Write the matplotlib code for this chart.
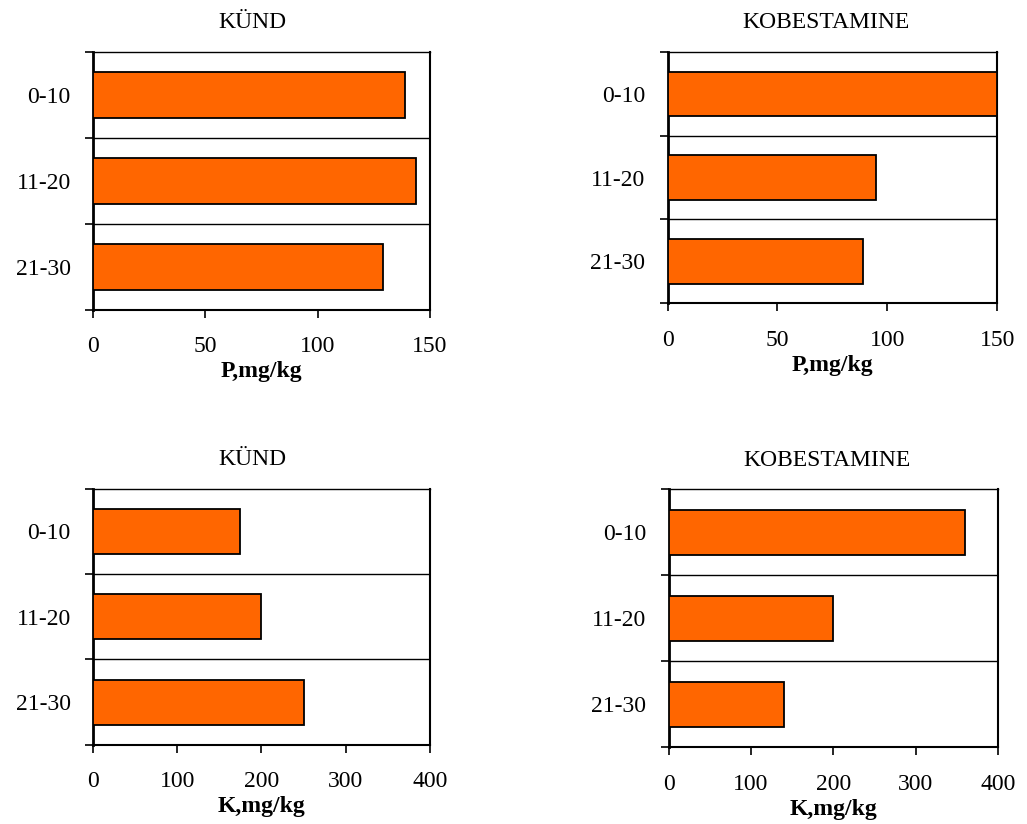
import matplotlib
matplotlib.use("Agg")
import matplotlib.pyplot as plt

plt.rcParams["font.family"] = ["Liberation Serif", "DejaVu Serif"]

depths = ["0-10", "11-20", "21-30"]
p_kund = [139, 144, 129]
p_kobestamine = [150, 95, 89]
k_kund = [174, 200, 250]
k_kobestamine = [360, 200, 140]

panels = [
    ("KÜND", p_kund, "P,mg/kg", 150, 50, [0.0906, 0.624, 0.328, 0.313], 0.473),
    ("KOBESTAMINE", p_kobestamine, "P,mg/kg", 150, 50, [0.650, 0.632, 0.321, 0.305], 0.48),
    ("KÜND", k_kund, "K,mg/kg", 400, 100, [0.0906, 0.096, 0.328, 0.311], 0.473),
    ("KOBESTAMINE", k_kobestamine, "K,mg/kg", 400, 100, [0.651, 0.093, 0.321, 0.313], 0.48),
]

fig = plt.figure(figsize=(10.27, 8.24), dpi=100)

for title, values, xlabel, xmax, step, pos, tx in panels:
    ax = fig.add_axes(pos)
    y = list(range(len(depths)))
    ax.barh(y, values, height=0.53, color="#FF6600", edgecolor="black", linewidth=1.3, zorder=3)
    ax.set_ylim(len(depths) - 0.5, -0.5)
    ax.set_xlim(0, xmax)
    ax.set_xticks(list(range(0, xmax + 1, step)))
    ax.set_yticks(y)
    ax.set_yticklabels(depths)
    ax.set_yticks([i - 0.5 for i in range(len(depths) + 1)], minor=True)
    ax.tick_params(axis="y", which="major", length=0, pad=16, labelsize=17)
    ax.tick_params(axis="y", which="minor", length=6, width=1.2, direction="out")
    ax.tick_params(axis="x", which="major", length=6, width=1.2, direction="out", pad=13, labelsize=17)
    for b in [i + 0.5 for i in range(len(depths) - 1)]:
        ax.axhline(b, color="black", linewidth=1.0, zorder=1)
    ax.spines["left"].set_linewidth(2.0)
    ax.spines["bottom"].set_linewidth(1.5)
    ax.spines["top"].set_linewidth(1.0)
    ax.spines["right"].set_linewidth(1.5)
    ax.set_title(title, fontsize=17, pad=17, x=tx)
    ax.set_xlabel(xlabel, fontsize=17, fontweight="bold", labelpad=3)

fig.savefig("out.png", dpi=100)
